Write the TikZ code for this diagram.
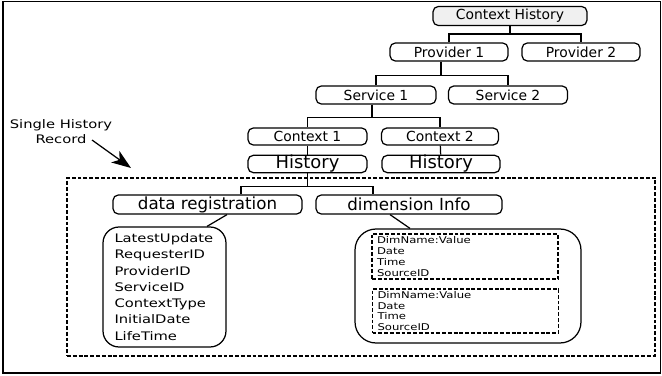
\documentclass[tikz,border=0pt]{standalone}
\usepackage{fontspec}
\setmainfont{DejaVu Sans}
\newfontfamily\widesans[FakeStretch=1.25]{DejaVu Sans}
\usepackage{tikz}
\usetikzlibrary{arrows.meta,calc}

\begin{document}
\begin{tikzpicture}[x=0.02cm, y=-0.02cm,
    treebox/.style={draw, rounded corners=3pt, inner sep=0pt, line width=0.7pt,
        font=\fontsize{7.9}{9}\selectfont},
    recbox/.style={draw, rounded corners=3pt, inner sep=0pt, line width=0.7pt,
        minimum height=0.38cm, font=\fontsize{9.5}{11}\selectfont},
    dimrec/.style={draw, dash pattern=on 2.2pt off 1.1pt, line width=0.7pt,
        minimum width=3.72cm, minimum height=0.9cm, inner xsep=0.1cm, inner ysep=0pt,
        text width=3.52cm, align=left, font=\widesans\fontsize{5.3}{6.2}\selectfont},
    link/.style={line width=0.7pt}]
    \useasboundingbox (0,0) rectangle (662,375);
    %cornice
    \draw[line width=0.8pt] (3,1.5) rectangle (660.5,373);
    %radice
    \node[treebox, fill=gray!12, minimum width=3.08cm, minimum height=0.38cm] (ch) at (510,16) {Context History};
    %provider
    \node[treebox, minimum width=2.36cm, minimum height=0.36cm] (prov1) at (449,52) {Provider 1};
    \node[treebox, minimum width=2.36cm, minimum height=0.36cm] (prov2) at (581,52) {Provider 2};
    %service
    \node[treebox, minimum width=2.4cm, minimum height=0.36cm] (serv1) at (376,95) {Service 1};
    \node[treebox, minimum width=2.38cm, minimum height=0.36cm] (serv2) at (508,95) {Service 2};
    %context
    \node[treebox, minimum width=2.38cm, minimum height=0.34cm] (ctx1) at (307.5,136.5) {Context 1};
    \node[treebox, minimum width=2.34cm, minimum height=0.34cm] (ctx2) at (440,136.5) {Context 2};
    %history
    \node[treebox, minimum width=2.38cm, minimum height=0.32cm, font=\fontsize{10.2}{11}\selectfont] (hist1) at (307.5,164) {History};
    \node[treebox, minimum width=2.36cm, minimum height=0.32cm, font=\fontsize{10.2}{11}\selectfont] (hist2) at (441,164) {History};
    %record singolo
    \node[draw, dash pattern=on 2.2pt off 1.1pt, line width=0.7pt, minimum width=11.76cm, minimum height=3.56cm] (record) at (361,267) {};
    \node[recbox, minimum width=3.78cm] (datareg) at (207.5,204.5) {data registration};
    \node[recbox, minimum width=3.72cm] (diminfo) at (409,204.5) {dimension Info};
    %campi
    \node[draw, rounded corners=0.32cm, line width=0.7pt, minimum width=2.46cm, minimum height=2.4cm,
        inner xsep=0.22cm, inner ysep=0pt, text width=2.0cm, align=left,
        font=\widesans\fontsize{6.7}{9.25}\selectfont] (regbox) at (164.5,287) {LatestUpdate\\RequesterID\\ProviderID\\ServiceID\\ContextType\\InitialDate\\LifeTime};
    \node[draw, rounded corners=0.42cm, line width=0.7pt, minimum width=4.52cm, minimum height=2.28cm] (dimbox) at (468,286) {};
    \node[dimrec] (dim1) at (465,256.5) {DimName:Value\\Date\\Time\\SourceID};
    \node[dimrec, minimum width=3.7cm, minimum height=0.88cm] (dim2) at (465.5,311) {DimName:Value\\Date\\Time\\SourceID};
    %etichetta
    \node[align=center, font=\widesans\fontsize{6.7}{8.5}\selectfont] (recordlbl) at (61,132) {Single History\\Record};
    \coordinate (arrstart) at (92,140);
    \coordinate (arrtip) at (131,168);
    \draw[line width=0.7pt, -{Stealth[length=11pt, width=8pt, inset=3pt]}] (arrstart) -- (arrtip);
    %collegamenti
    \draw[link] (ch.south) -- ++(0,8) coordinate (j1);
    \draw[link] (prov1.north) |- (j1) -| (prov2.north);
    \draw[link] ($(prov1.south)+(-8,0)$) -- ++(0,14) coordinate (j2);
    \draw[link] (serv1.north) |- (j2) -| (serv2.north);
    \draw[link] ($(serv1.south)+(-4,0)$) -- ++(0,13) coordinate (j3);
    \draw[link] (ctx1.north) |- (j3) -| (ctx2.north);
    \draw[link] (ctx1) -- (hist1);
    \draw[link] (ctx2) -- (hist2);
    \draw[link] (hist1.south) -- ++(0,13) coordinate (j4);
    \draw[link] ($(datareg.north)+(33.5,0)$) |- (j4) -| ($(diminfo.north)+(-36,0)$);
    \draw[link] ($(datareg.south)+(19.5,0)$) -- ($(regbox.north)+(42.5,0)$);
    \draw[link] ($(diminfo.south)+(-19,0)$) -- ($(dimbox.north)+(-58,0)$);
\end{tikzpicture}
\end{document}
